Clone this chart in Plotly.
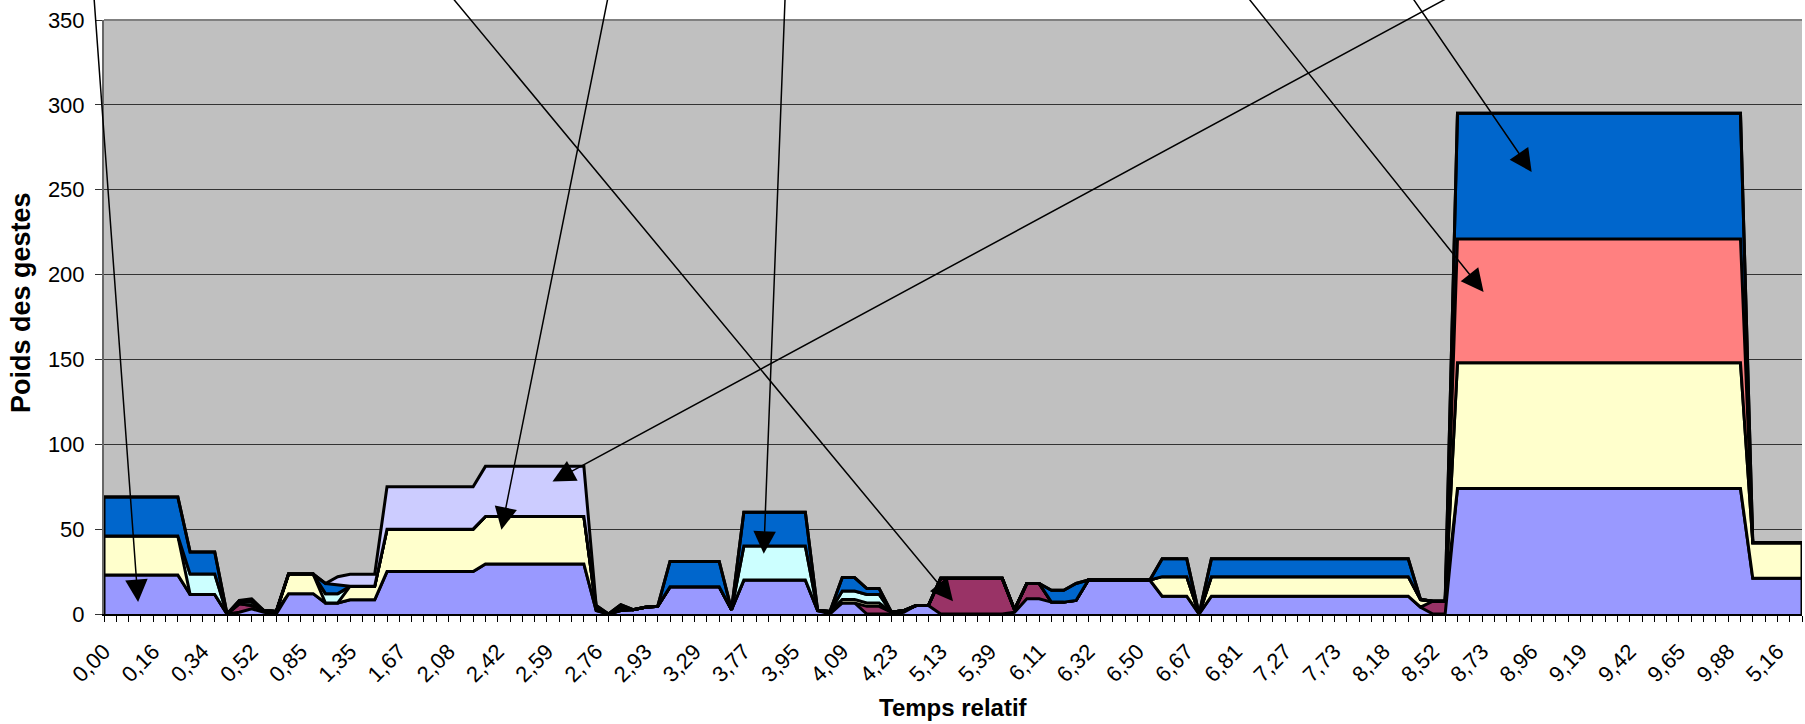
import plotly.graph_objects as go

# ---------------- data ----------------
n_cat = 139
categories = list(range(n_cat))

tick_labels = ["0,00", "0,16", "0,34", "0,52", "0,85", "1,35", "1,67", "2,08", "2,42",
               "2,59", "2,76", "2,93", "3,29", "3,77", "3,95", "4,09", "4,23", "5,13",
               "5,39", "6,11", "6,32", "6,50", "6,67", "6,81", "7,27", "7,73", "8,18",
               "8,52", "8,73", "8,96", "9,19", "9,42", "9,65", "9,88", "5,16"]

s_periwinkle = [
    23, 23, 23, 23, 23, 23, 23, 11.5, 11.5, 11.5,
    0, 1, 3, 1, 0, 12, 12, 12, 6.5, 6.5,
    8.4, 8.4, 8.4, 25, 25, 25, 25, 25, 25, 25,
    25, 29.5, 29.5, 29.5, 29.5, 29.5, 29.5, 29.5, 29.5, 29.5,
    2, 0, 2, 2.5, 4, 4.5, 16, 16, 16, 16,
    16, 2.5, 20, 20, 20, 20, 20, 20, 2, 0,
    6.5, 6.5, 0, 0, 0, 1, 5, 5, 0, 0,
    0, 0, 0, 0, 1, 9, 9, 7, 7, 8,
    20, 20, 20, 20, 20, 20, 10.5, 10.5, 10.5, 0,
    10.5, 10.5, 10.5, 10.5, 10.5, 10.5, 10.5, 10.5, 10.5, 10.5,
    10.5, 10.5, 10.5, 10.5, 10.5, 10.5, 10.5, 4, 0, 0,
    74, 74, 74, 74, 74, 74, 74, 74, 74, 74,
    74, 74, 74, 74, 74, 74, 74, 74, 74, 74,
    74, 74, 74, 74, 21, 21, 21, 21, 21]

s_maroon = [
    0, 0, 0, 0, 0, 0, 0, 0, 0, 0,
    0, 5, 2, 1, 1.5, 0, 0, 0, 0, 0,
    0, 0, 0, 0, 0, 0, 0, 0, 0, 0,
    0, 0, 0, 0, 0, 0, 0, 0, 0, 0,
    0, 0, 0, 0, 0, 0, 0, 0, 0, 0,
    0, 0, 0, 0, 0, 0, 0, 0, 0, 1.5,
    0, 0, 4.5, 4.5, 1, 1, 0, 0, 21, 21,
    21, 21, 21, 21, 1.5, 9, 9, 0, 0, 0,
    0, 0, 0, 0, 0, 0, 0, 0, 0, 0,
    0, 0, 0, 0, 0, 0, 0, 0, 0, 0,
    0, 0, 0, 0, 0, 0, 0, 0, 7.5, 7.5,
    0, 0, 0, 0, 0, 0, 0, 0, 0, 0,
    0, 0, 0, 0, 0, 0, 0, 0, 0, 0,
    0, 0, 0, 0, 0, 0, 0, 0, 0]

s_yellow = [
    23, 23, 23, 23, 23, 23, 23, 0, 0, 0,
    0, 0, 0, 0, 0, 11.5, 11.5, 11.5, 0, 0,
    8, 8, 8, 25, 25, 25, 25, 25, 25, 25,
    25, 28, 28, 28, 28, 28, 28, 28, 28, 28,
    1, 0, 0, 0, 0, 0, 0, 0, 0, 0,
    0, 0, 0, 0, 0, 0, 0, 0, 0, 0,
    2, 2, 2, 2, 0, 0, 0, 0, 0, 0,
    0, 0, 0, 0, 0, 0, 0, 0, 0, 0,
    0, 0, 0, 0, 0, 0, 11.5, 11.5, 11.5, 0,
    11.5, 11.5, 11.5, 11.5, 11.5, 11.5, 11.5, 11.5, 11.5, 11.5,
    11.5, 11.5, 11.5, 11.5, 11.5, 11.5, 11.5, 4.5, 0, 0,
    74, 74, 74, 74, 74, 74, 74, 74, 74, 74,
    74, 74, 74, 74, 74, 74, 74, 74, 74, 74,
    74, 74, 74, 74, 21, 21, 21, 21, 21]

s_cyan = [
    0, 0, 0, 0, 0, 0, 0, 12, 12, 12,
    0, 1, 2, 0, 0, 0, 0, 0, 5.5, 5.5,
    0, 0, 0, 0, 0, 0, 0, 0, 0, 0,
    0, 0, 0, 0, 0, 0, 0, 0, 0, 0,
    0, 0, 2, 0, 0, 0, 0, 0, 0, 0,
    0, 0, 20, 20, 20, 20, 20, 20, 0, 0,
    5, 5, 5, 5, 0, 0, 0, 0, 0, 0,
    0, 0, 0, 0, 0, 0, 0, 0, 0, 0,
    0, 0, 0, 0, 0, 0, 0, 0, 0, 0,
    0, 0, 0, 0, 0, 0, 0, 0, 0, 0,
    0, 0, 0, 0, 0, 0, 0, 0, 0, 0,
    0, 0, 0, 0, 0, 0, 0, 0, 0, 0,
    0, 0, 0, 0, 0, 0, 0, 0, 0, 0,
    0, 0, 0, 0, 0, 0, 0, 0, 0]

s_coral = [
    0, 0, 0, 0, 0, 0, 0, 0, 0, 0,
    0, 0, 0, 0, 0, 0, 0, 0, 0, 0,
    0, 0, 0, 0, 0, 0, 0, 0, 0, 0,
    0, 0, 0, 0, 0, 0, 0, 0, 0, 0,
    0, 0, 0, 0, 0, 0, 0, 0, 0, 0,
    0, 0, 0, 0, 0, 0, 0, 0, 0, 0,
    0, 0, 0, 0, 0, 0, 0, 0, 0, 0,
    0, 0, 0, 0, 0, 0, 0, 0, 0, 0,
    0, 0, 0, 0, 0, 0, 0, 0, 0, 0,
    0, 0, 0, 0, 0, 0, 0, 0, 0, 0,
    0, 0, 0, 0, 0, 0, 0, 0, 0, 0,
    73, 73, 73, 73, 73, 73, 73, 73, 73, 73,
    73, 73, 73, 73, 73, 73, 73, 73, 73, 73,
    73, 73, 73, 73, 0, 0, 0, 0, 0]

s_blue = [
    23, 23, 23, 23, 23, 23, 23, 13, 13, 13,
    0, 1, 1, 0, 0, 0, 0, 0, 6, 5,
    0, 0, 0, 0, 0, 0, 0, 0, 0, 0,
    0, 0, 0, 0, 0, 0, 0, 0, 0, 0,
    2, 0, 1.5, 0, 0, 0, 15, 15, 15, 15,
    15, 0, 20, 20, 20, 20, 20, 20, 0, 0,
    8, 8, 3.5, 3.5, 0, 0, 0, 0, 0, 0,
    0, 0, 0, 0, 0, 0, 0, 7, 7, 10,
    0, 0, 0, 0, 0, 0, 10.5, 10.5, 10.5, 0,
    10.5, 10.5, 10.5, 10.5, 10.5, 10.5, 10.5, 10.5, 10.5, 10.5,
    10.5, 10.5, 10.5, 10.5, 10.5, 10.5, 10.5, 0, 0, 0,
    74, 74, 74, 74, 74, 74, 74, 74, 74, 74,
    74, 74, 74, 74, 74, 74, 74, 74, 74, 74,
    74, 74, 74, 74, 0, 0, 0, 0, 0]

s_lavender = [
    0, 0, 0, 0, 0, 0, 0, 0, 0, 0,
    0, 0, 1, 0, 0, 0, 0, 0, 0, 5,
    7, 7, 7, 25, 25, 25, 25, 25, 25, 25,
    25, 29.5, 29.5, 29.5, 29.5, 29.5, 29.5, 29.5, 29.5, 29.5,
    0, 0, 0, 0, 0, 0, 0, 0, 0, 0,
    0, 0, 0, 0, 0, 0, 0, 0, 0, 0,
    0, 0, 0, 0, 0, 0, 0, 0, 0, 0,
    0, 0, 0, 0, 0, 0, 0, 0, 0, 0,
    0, 0, 0, 0, 0, 0, 0, 0, 0, 0,
    0, 0, 0, 0, 0, 0, 0, 0, 0, 0,
    0, 0, 0, 0, 0, 0, 0, 0, 0, 0,
    0, 0, 0, 0, 0, 0, 0, 0, 0, 0,
    0, 0, 0, 0, 0, 0, 0, 0, 0, 0,
    0, 0, 0, 0, 0, 0, 0, 0, 0]

series = [
    ("S1", s_periwinkle, "#9999FF"),
    ("S2", s_maroon, "#993366"),
    ("S3", s_yellow, "#FFFFCC"),
    ("S4", s_cyan, "#CCFFFF"),
    ("S6", s_coral, "#FF8080"),
    ("S7", s_blue, "#0066CC"),
    ("S8", s_lavender, "#CCCCFF"),
]
for name, vals, _ in series:
    if len(vals) != n_cat:
        raise ValueError(f"{name} has {len(vals)} values")

# arrows: (tip x, tip y, tail x, tail y) in data units
arrows = [
    (2.77, 7.0, -0.9, 372),
    (69.0, 7.5, 27.3, 372),
    (32.3, 49.6, 41.2, 372),
    (53.62, 35.5, 55.4, 372),
    (112.12, 189.8, 92.0, 372),
    (116.03, 260.5, 105.5, 372),
    (36.45, 78.0, 111.5, 372),
]

FONT = "Liberation Sans, Arial, sans-serif"

fig = go.Figure()
for name, vals, color in series:
    fig.add_trace(go.Scatter(
        x=categories, y=vals, name=name, mode="lines",
        stackgroup="one", fillcolor=color,
        line=dict(color="black", width=3, shape="linear"),
        hoverinfo="skip",
    ))

# vertical outline of the stacked polygons at both ends
totals = [sum(v[i] for _, v, _ in series) for i in categories]
for idx in (categories[0], categories[-1]):
    fig.add_shape(type="line", xref="x", yref="y", x0=idx, x1=idx, y0=0, y1=totals[idx],
                  line=dict(color="black", width=3), layer="above")

# plot-area top border
fig.add_shape(type="line", xref="paper", yref="paper", x0=0, x1=1, y0=1, y1=1,
              line=dict(color="#808080", width=2), layer="below")

tickvals = categories
ticktext = [tick_labels[i // 4] if i % 4 == 0 and i // 4 < len(tick_labels) else "" for i in categories]

for tx, ty, ax, ay in arrows:
    fig.add_annotation(
        x=tx, y=ty, xref="x", yref="y",
        ax=ax, ay=ay, axref="x", ayref="y",
        text="", showarrow=True,
        arrowhead=2, arrowsize=3.0, arrowwidth=1.5, arrowcolor="black",
        standoff=0, startstandoff=0,
    )

fig.add_annotation(
    text="<b>Temps relatif</b>", xref="paper", yref="paper",
    x=0.5, y=-0.158, xanchor="center", yanchor="middle",
    showarrow=False, font=dict(family=FONT, size=24, color="black"),
)
fig.add_annotation(
    text="<b>Poids des gestes</b>", xref="paper", yref="paper",
    x=-0.049, y=0.525, xanchor="center", yanchor="middle", textangle=-90,
    showarrow=False, font=dict(family=FONT, size=27, color="black"),
)

fig.update_layout(
    width=1805, height=724,
    margin=dict(l=104, r=3, t=20, b=110, autoexpand=False),
    paper_bgcolor="white", plot_bgcolor="#C0C0C0",
    showlegend=False,
    font=dict(family=FONT, size=22, color="black"),
    xaxis=dict(
        range=[0, n_cat - 1], tickmode="array", tickvals=tickvals, ticktext=ticktext,
        tickangle=-45, ticks="outside", ticklen=6, tickwidth=1, tickcolor="black",
        showgrid=False, zeroline=False, showline=True, linecolor="black", linewidth=2,
        tickfont=dict(family=FONT, size=22, color="black"), automargin=False,
        ticklabelstandoff=8,
    ),
    yaxis=dict(
        range=[0, 350], dtick=50, tick0=0, ticks="outside", ticklen=7, tickwidth=1,
        tickcolor="#333333", showgrid=True, gridcolor="#333333", gridwidth=1,
        zeroline=False, showline=True, linecolor="#666666", linewidth=2,
        tickfont=dict(family=FONT, size=22, color="black"), automargin=False,
        ticklabelstandoff=6,
    ),
)

fig.write_html(
    "out.html",
    config={"displayModeBar": False},
    post_script="document.body.style.margin='0px';document.body.style.overflow='hidden';",
)
